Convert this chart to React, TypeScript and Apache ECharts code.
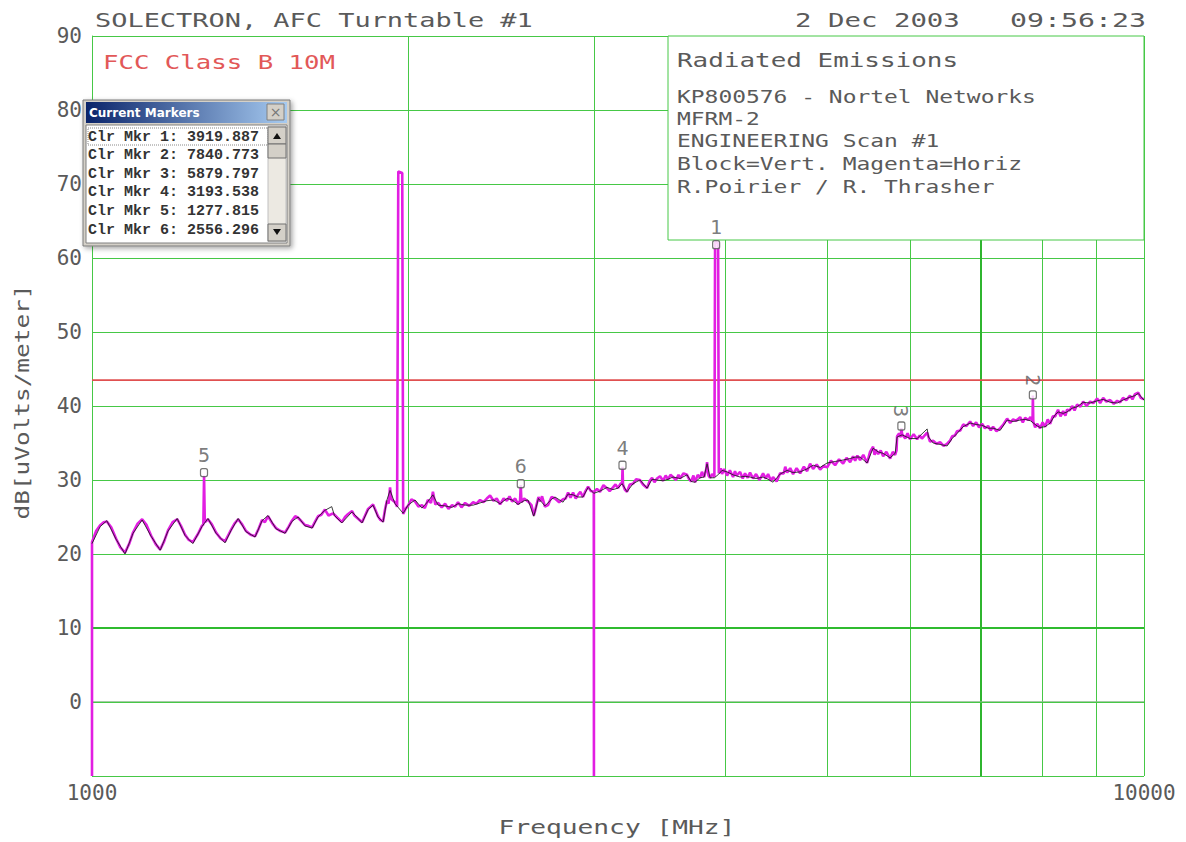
import React, { useEffect, useRef } from "react";
import * as echarts from "echarts";

const FONT = '"DejaVu Sans Mono", "Liberation Mono", monospace';
const INK = "#5a5a5a";
const GREEN = "#46c846";

// ---------- data ----------
// Magenta trace (horizontal polarisation): [frequency MHz, level dBuV/m]
const horizTrace: [number, number][] = [
  [1000, -10], [1000, 21.6], [1009, 23.1], [1018, 23.9], [1026, 24.3], [1033, 24.4], [1043, 23.6],
  [1054, 22.1], [1064, 20.9], [1075, 20.2], [1085, 21.4], [1094, 22.9], [1105, 24.1], [1116, 24.7],
  [1127, 23.9], [1138, 22.5], [1150, 21.3], [1161, 20.6], [1171, 21.7], [1181, 23.2], [1193, 24.3],
  [1205, 24.7], [1215, 23.8], [1226, 22.6], [1236, 21.9], [1247, 21.6], [1261, 22.7], [1272, 23.8],
  [1276, 24.0], [1278, 30.6], [1280, 24.3], [1289, 24.7], [1300, 24.0], [1312, 22.9], [1325, 22.1],
  [1338, 21.7], [1347, 22.5], [1356, 23.3], [1366, 24.1], [1377, 24.7], [1389, 24.0], [1401, 23.1],
  [1415, 22.6], [1429, 22.4], [1440, 23.4], [1451, 24.6], [1460, 24.3], [1470, 25.1], [1483, 24.2],
  [1496, 23.5], [1511, 23.1], [1526, 22.9], [1538, 23.7], [1549, 24.5], [1560, 25.1], [1570, 24.9],
  [1582, 24.4], [1594, 23.9], [1606, 23.8], [1619, 23.6], [1630, 24.4], [1640, 25.1], [1652, 25.3],
  [1665, 26.0], [1678, 25.2], [1695, 25.5], [1711, 24.9], [1728, 24.3], [1740, 25.0], [1748, 25.3],
  [1767, 25.8], [1776, 25.2], [1786, 24.9], [1796, 24.6], [1806, 24.3], [1818, 25.2], [1830, 26.1],
  [1840, 26.4], [1850, 26.7], [1860, 25.9], [1870, 25.1], [1880, 24.6], [1891, 24.4], [1899, 26.0],
  [1907, 27.2], [1914, 26.8], [1920, 29.0], [1926, 27.4], [1941, 27.0], [1950, 26.4], [1955, 71.7],
  [1972, 71.5], [1976, 25.4], [1986, 26.1], [1997, 26.5], [2012, 27.4], [2028, 27.1], [2043, 26.4],
  [2059, 26.6], [2072, 26.2], [2086, 27.3], [2100, 26.9], [2109, 28.4], [2120, 26.7], [2133, 26.9],
  [2150, 26.3], [2166, 26.8], [2182, 26.1], [2199, 26.6], [2214, 26.4], [2228, 27.0], [2245, 26.3],
  [2263, 26.9], [2283, 26.5], [2303, 27.0], [2320, 26.8], [2338, 27.3], [2356, 27.0], [2373, 27.5],
  [2390, 27.9], [2408, 27.2], [2425, 27.5], [2443, 26.7], [2462, 27.5], [2480, 27.2], [2494, 27.8],
  [2508, 27.1], [2525, 27.5], [2541, 26.7], [2552, 27.2], [2556, 29.3], [2560, 27.0], [2575, 27.5],
  [2597, 27.1], [2617, 26.6], [2630, 25.2], [2637, 25.8], [2657, 27.7], [2668, 27.1], [2678, 27.8],
  [2695, 26.4], [2713, 26.6], [2734, 27.7], [2755, 27.5], [2780, 27.0], [2804, 27.4], [2820, 27.5],
  [2835, 28.3], [2850, 27.6], [2866, 28.3], [2883, 27.5], [2897, 28.0], [2912, 28.4], [2929, 27.7],
  [2945, 28.5], [2962, 29.1], [2980, 28.5], [2999, 28.4], [3000, -10], [3000, 28.4], [3020, 28.8],
  [3040, 28.4], [3063, 29.3], [3087, 28.9], [3105, 28.5], [3128, 29.0], [3145, 29.4], [3162, 28.9],
  [3180, 29.5], [3191, 29.6], [3194, 31.8], [3197, 29.4], [3210, 28.7], [3225, 28.4], [3245, 29.4],
  [3268, 29.5], [3290, 30.1], [3318, 30.0], [3340, 29.4], [3370, 28.9], [3390, 29.9], [3407, 30.3],
  [3425, 29.7], [3444, 30.2], [3467, 30.5], [3490, 29.9], [3510, 30.6], [3528, 30.1], [3547, 30.7],
  [3567, 30.4], [3590, 30.0], [3610, 30.7], [3622, 30.2], [3650, 30.9], [3678, 30.7], [3695, 30.1],
  [3711, 29.8], [3730, 30.6], [3743, 29.7], [3765, 30.7], [3784, 30.3], [3800, 31.1], [3818, 30.4],
  [3835, 31.4], [3843, 32.4], [3855, 30.6], [3868, 30.3], [3885, 30.8], [3905, 30.4], [3911, 62.2],
  [3937, 62.0], [3943, 30.9], [3960, 31.6], [3971, 30.8], [3990, 31.5], [4015, 30.6], [4040, 31.3],
  [4068, 30.4], [4085, 31.2], [4100, 30.6], [4131, 31.1], [4155, 30.2], [4176, 30.9], [4200, 30.3],
  [4222, 31.0], [4250, 30.2], [4278, 30.8], [4310, 30.0], [4344, 30.9], [4370, 30.2], [4392, 30.8],
  [4420, 29.9], [4440, 30.4], [4475, 29.8], [4509, 30.9], [4545, 30.9], [4560, 31.8], [4579, 31.0],
  [4610, 31.6], [4639, 30.8], [4675, 31.6], [4711, 30.9], [4750, 31.8], [4784, 31.2], [4815, 32.2],
  [4847, 31.5], [4885, 32.1], [4922, 31.4], [4960, 31.9], [4998, 31.7], [5040, 32.6], [5086, 32.0],
  [5130, 32.8], [5176, 32.2], [5215, 33.0], [5256, 32.4], [5290, 33.2], [5314, 32.6], [5340, 33.3],
  [5372, 32.7], [5410, 33.4], [5455, 32.3], [5490, 33.8], [5527, 34.5], [5545, 33.4], [5560, 34.1],
  [5588, 33.5], [5620, 34.0], [5650, 33.2], [5690, 33.8], [5737, 32.9], [5770, 33.8], [5800, 33.4],
  [5818, 34.0], [5825, 35.9], [5850, 36.3], [5872, 35.8], [5880, 37.0], [5889, 36.2], [5930, 35.6],
  [5960, 36.3], [5993, 35.5], [6040, 36.2], [6086, 35.5], [6120, 36.0], [6150, 35.6], [6221, 36.4],
  [6260, 35.2], [6303, 35.3], [6350, 34.9], [6400, 35.1], [6450, 34.6], [6499, 34.9], [6540, 35.3],
  [6571, 35.9], [6610, 36.0], [6643, 36.6], [6690, 36.7], [6731, 37.5], [6780, 37.3], [6835, 37.9],
  [6880, 37.3], [6925, 37.8], [6970, 37.1], [7016, 37.6], [7060, 37.0], [7109, 37.3], [7150, 36.7],
  [7187, 37.2], [7240, 36.6], [7299, 37.0], [7350, 37.5], [7411, 38.3], [7460, 37.7], [7509, 38.2],
  [7560, 38.0], [7625, 38.5], [7670, 37.8], [7709, 38.4], [7760, 38.1], [7800, 38.5], [7835, 37.9],
  [7841, 41.4], [7848, 37.9], [7880, 37.1], [7914, 37.6], [7966, 37.0], [8010, 37.8], [8054, 37.2],
  [8100, 38.2], [8143, 37.6], [8190, 38.6], [8232, 38.6], [8285, 39.5], [8330, 38.6], [8378, 39.3],
  [8420, 38.7], [8451, 39.5], [8500, 39.4], [8544, 40.0], [8590, 39.4], [8638, 40.2], [8700, 39.9],
  [8753, 40.6], [8820, 40.0], [8888, 40.6], [8950, 40.4], [9025, 41.0], [9085, 40.4], [9145, 41.1],
  [9210, 40.6], [9286, 40.8], [9360, 40.3], [9430, 40.7], [9490, 40.5], [9551, 41.1], [9620, 40.8],
  [9698, 41.4], [9750, 40.9], [9805, 41.6], [9874, 41.8], [9930, 41.1], [10000, 40.9],
];

// Black trace (vertical polarisation): [frequency MHz, level dBuV/m]
const vertTrace: [number, number][] = [
  [1000, 21.4], [1018, 23.7], [1033, 24.5], [1054, 22.0], [1075, 20.0], [1094, 22.8], [1116, 24.6],
  [1138, 22.4], [1161, 20.5], [1181, 23.1], [1205, 24.8], [1226, 22.5], [1247, 21.4], [1272, 23.7],
  [1289, 24.8], [1312, 22.8], [1338, 21.5], [1356, 23.2], [1377, 24.8], [1401, 23.0], [1429, 22.3],
  [1451, 24.5], [1470, 25.2], [1496, 23.4], [1526, 22.8], [1549, 24.4], [1570, 25.0], [1594, 23.8],
  [1619, 23.5], [1640, 25.0], [1665, 25.9], [1690, 26.4], [1700, 25.2], [1728, 24.2], [1767, 25.7],
  [1806, 24.2], [1830, 26.0], [1850, 26.6], [1870, 25.0], [1891, 24.3], [1907, 27.3], [1920, 28.6],
  [1941, 26.8], [1976, 25.5], [1997, 26.6], [2028, 27.3], [2059, 26.2], [2086, 27.1], [2109, 28.0],
  [2133, 26.6], [2166, 26.5], [2199, 26.3], [2228, 26.8], [2263, 26.6], [2303, 26.6], [2338, 26.9],
  [2373, 27.2], [2408, 27.3], [2443, 26.8], [2480, 27.5], [2508, 27.3], [2541, 26.7], [2575, 27.2],
  [2597, 27.3], [2630, 25.1], [2657, 27.5], [2695, 26.5], [2734, 27.4], [2755, 27.7], [2804, 27.0],
  [2835, 28.1], [2866, 28.0], [2897, 27.7], [2929, 27.7], [2962, 29.0], [2999, 28.2], [3040, 28.5],
  [3087, 29.0], [3128, 28.7], [3162, 28.9], [3191, 29.5], [3225, 28.4], [3268, 29.5], [3318, 30.0],
  [3370, 28.9], [3407, 30.1], [3444, 30.0], [3490, 29.9], [3528, 30.1], [3567, 30.4], [3622, 30.2],
  [3678, 30.7], [3711, 29.8], [3743, 29.7], [3784, 30.3], [3818, 30.4], [3843, 32.2], [3868, 30.3],
  [3905, 30.3], [3943, 30.8], [3971, 31.3], [4015, 31.1], [4068, 30.7], [4131, 30.4], [4176, 30.5],
  [4222, 30.4], [4278, 30.2], [4344, 30.4], [4392, 30.1], [4440, 29.7], [4509, 30.8], [4579, 31.3],
  [4639, 31.0], [4711, 31.1], [4784, 31.5], [4847, 32.0], [4922, 31.7], [4998, 32.3], [5086, 32.5],
  [5176, 32.7], [5256, 32.9], [5314, 33.1], [5372, 33.1], [5455, 32.3], [5527, 34.3], [5588, 33.8],
  [5650, 33.6], [5737, 33.0], [5800, 33.6], [5825, 35.8], [5889, 36.1], [5993, 35.6], [6086, 35.6],
  [6221, 36.9], [6240, 35.8], [6303, 35.0], [6400, 34.8], [6499, 34.6], [6571, 35.6], [6643, 36.3],
  [6731, 37.2], [6835, 37.7], [6925, 37.5], [7016, 37.4], [7109, 37.0], [7187, 37.0], [7299, 36.7],
  [7411, 38.1], [7509, 37.9], [7625, 38.1], [7709, 38.2], [7800, 38.0], [7914, 37.3], [7966, 37.1],
  [8054, 37.2], [8143, 37.7], [8232, 38.8], [8285, 39.2], [8378, 39.0], [8451, 39.2], [8544, 39.7],
  [8638, 39.9], [8753, 40.5], [8888, 40.4], [9025, 40.7], [9145, 40.9], [9286, 40.5], [9430, 40.4],
  [9551, 40.8], [9698, 41.2], [9805, 41.4], [9874, 41.7], [10000, 40.8],
];

const markerNames = ["1", "2", "3", "4", "5", "6"];
const markerFreqs = [3919.887, 7840.773, 5879.797, 3193.538, 1277.815, 2556.296];
const markerLevels = [61.8, 41.5, 37.3, 32.0, 31.0, 29.5];
const rotatedMarkers = ["2", "3"];

const limitFreqs = [1000, 10000];
const limitLevel = 43.5;
const minorGridFreqs = [2000, 3000, 4000, 5000, 6000, 7000, 8000, 9000];

const yMin = -10;
const yMax = 90;
const yStep = 10;
const xMin = 1000;
const xMax = 10000;

const titleLeft = "SOLECTRON, AFC Turntable #1";
const titleDate = "2 Dec 2003";
const titleTime = "09:56:23";
const limitName = "FCC Class B 10M";
const infoHeading = "Radiated Emissions";
const infoLines = [
  "KP800576 - Nortel Networks",
  "MFRM-2",
  "ENGINEERING Scan #1",
  "Block=Vert. Magenta=Horiz",
  "R.Poirier / R. Thrasher",
];
const xAxisName = "Frequency [MHz]";
const yAxisName = "dB[uVolts/meter]";
const windowTitle = "Current Markers";
const windowRows = markerNames.map(
  (n, i) => `Clr Mkr ${n}: ${markerFreqs[i].toFixed(3)}`
);

// ---------- helpers ----------
function fitText(
  text: string,
  x: number,
  y: number,
  width: number,
  size: number,
  fill: string,
  align: string = "left",
  extra: any = {}
) {
  const natural = text.length * 0.602 * size;
  return {
    type: "text",
    x,
    y,
    scaleX: width / natural,
    z: 20,
    silent: true,
    ...extra,
    style: {
      text,
      fill,
      fontSize: size,
      fontFamily: FONT,
      align,
      verticalAlign: "middle",
    },
  };
}

function buildMarkerWindow() {
  const x0 = 83;
  const y0 = 100;
  const w = 207;
  const h = 146;
  const z = 40;
  const children: any[] = [
    {
      type: "rect",
      z,
      shape: { x: x0, y: y0, width: w, height: h },
      style: {
        fill: "#d4d0c8",
        stroke: "#7a7a7a",
        lineWidth: 1,
        shadowBlur: 5,
        shadowColor: "rgba(0,0,0,0.35)",
        shadowOffsetX: 2,
        shadowOffsetY: 2,
      },
    },
    {
      type: "rect",
      z,
      shape: { x: x0 + 3, y: y0 + 2, width: w - 6, height: 21 },
      style: {
        fill: new echarts.graphic.LinearGradient(0, 0, 1, 0, [
          { offset: 0, color: "#0a246a" },
          { offset: 1, color: "#a6caf0" },
        ]),
      },
    },
    {
      type: "text",
      z,
      x: x0 + 6,
      y: y0 + 13,
      style: {
        text: windowTitle,
        fill: "#ffffff",
        fontSize: 12,
        fontWeight: "bold",
        fontFamily: '"DejaVu Sans", "Liberation Sans", sans-serif',
        align: "left",
        verticalAlign: "middle",
      },
    },
    {
      type: "rect",
      z,
      shape: { x: x0 + w - 23, y: y0 + 4, width: 17, height: 16 },
      style: { fill: "#d4d0c8", stroke: "#808080", lineWidth: 1 },
    },
    {
      type: "text",
      z,
      x: x0 + w - 14.5,
      y: y0 + 12,
      style: {
        text: "×",
        fill: "#777",
        fontSize: 14,
        fontFamily: '"DejaVu Sans", sans-serif',
        align: "center",
        verticalAlign: "middle",
      },
    },
    {
      type: "rect",
      z,
      shape: { x: x0 + 3, y: y0 + 25, width: w - 6, height: h - 28 },
      style: { fill: "#ffffff", stroke: "#808080", lineWidth: 1 },
    },
    {
      type: "rect",
      z,
      shape: { x: x0 + 5, y: y0 + 28, width: 180, height: 17 },
      style: { fill: "none", stroke: "#888", lineWidth: 1, lineDash: [1, 1] },
    },
  ];
  windowRows.forEach((row, i) => {
    children.push({
      type: "text",
      z,
      x: x0 + 5,
      y: y0 + 37 + i * 18.6,
      style: {
        text: row,
        fill: "#333",
        fontSize: 15,
        fontWeight: "bold",
        fontFamily: '"Liberation Mono", "DejaVu Sans Mono", monospace',
        align: "left",
        verticalAlign: "middle",
      },
    });
  });
  const sx = x0 + w - 22;
  children.push(
    {
      type: "rect",
      z: z + 1,
      shape: { x: sx, y: y0 + 26, width: 18, height: h - 30 },
      style: { fill: "#ece9e2", stroke: "#c0c0c0", lineWidth: 1 },
    },
    {
      type: "rect",
      z: z + 1,
      shape: { x: sx, y: y0 + 27, width: 18, height: 17 },
      style: { fill: "#d4d0c8", stroke: "#707070", lineWidth: 1 },
    },
    {
      type: "polygon",
      z: z + 2,
      shape: { points: [[sx + 5, y0 + 39], [sx + 13, y0 + 39], [sx + 9, y0 + 33]] },
      style: { fill: "#111" },
    },
    {
      type: "rect",
      z: z + 1,
      shape: { x: sx, y: y0 + 44, width: 18, height: 14 },
      style: { fill: "#d4d0c8", stroke: "#707070", lineWidth: 1 },
    },
    {
      type: "rect",
      z: z + 1,
      shape: { x: sx, y: y0 + h - 22, width: 18, height: 17 },
      style: { fill: "#d4d0c8", stroke: "#707070", lineWidth: 1 },
    },
    {
      type: "polygon",
      z: z + 2,
      shape: {
        points: [[sx + 5, y0 + h - 17], [sx + 13, y0 + h - 17], [sx + 9, y0 + h - 11]],
      },
      style: { fill: "#111" },
    }
  );
  return { type: "group", silent: true, children };
}

// ---------- component ----------
export default function App() {
  const ref = useRef<HTMLDivElement>(null);

  useEffect(() => {
    if (!ref.current) return;
    const chart = echarts.init(ref.current, null, { renderer: "svg" });

    const gridMarkData: any[] = minorGridFreqs.map((f) =>
      f === 7000
        ? { xAxis: f, lineStyle: { color: "#2fb52f", width: 2 } }
        : { xAxis: f }
    );
    gridMarkData.push({ yAxis: 10, lineStyle: { color: "#2fbb2f", width: 2.2 } });
    gridMarkData.push({ yAxis: 0, lineStyle: { color: "#8ab88a", width: 1.6 } });

    const option: any = {
      animation: false,
      backgroundColor: "#ffffff",
      textStyle: { fontFamily: FONT },
      grid: {
        left: 92,
        right: 42,
        top: 36,
        bottom: 66,
        containLabel: false,
        outerBoundsMode: "none",
      },
      xAxis: {
        type: "log",
        logBase: 10,
        min: xMin,
        max: xMax,
        axisLine: { show: true, lineStyle: { color: GREEN, width: 1 } },
        axisTick: { show: false },
        axisLabel: {
          show: true,
          fontFamily: FONT,
          fontSize: 21,
          color: INK,
          margin: 6,
          formatter: (v: number) => String(Math.round(v)),
        },
        splitLine: { show: true, lineStyle: { color: GREEN, width: 1 } },
        minorTick: { show: false },
        minorSplitLine: { show: false },
      },
      yAxis: {
        type: "value",
        min: yMin,
        max: yMax,
        interval: yStep,
        axisLine: { show: true, lineStyle: { color: GREEN, width: 1 } },
        axisTick: { show: false },
        axisLabel: {
          fontFamily: FONT,
          fontSize: 21,
          color: INK,
          margin: 10,
          formatter: (v: number) => (v === yMin ? "" : String(v)),
        },
        splitLine: { show: true, lineStyle: { color: GREEN, width: 1 } },
      },
      graphic: [
        {
          type: "rect",
          z: 1,
          silent: true,
          shape: { x: 668, y: 36, width: 476, height: 204 },
          style: { fill: "#ffffff", stroke: GREEN, lineWidth: 1 },
        },
        fitText(titleLeft, 95, 20, 438, 20, INK),
        fitText(titleDate, 795, 20, 165, 20, INK),
        fitText(titleTime, 1146, 20, 136, 20, INK, "right"),
        fitText(limitName, 103, 62, 232, 20, "#e25858"),
        fitText(infoHeading, 677, 60, 281, 20, INK),
        ...infoLines.map((t, i) =>
          fitText(t, 677, [97, 119, 141, 164, 187][i], t.length * 13.8, 18, INK)
        ),
        fitText(xAxisName, 617, 827, 237, 19, INK, "center"),
        fitText(yAxisName, 22, 402, 235, 19, INK, "center", { rotation: Math.PI / 2 }),
        buildMarkerWindow(),
      ],
      series: [
        {
          name: "grid",
          type: "line",
          z: 0,
          silent: true,
          showSymbol: false,
          data: [],
          markLine: {
            z: 0,
            silent: true,
            symbol: "none",
            animation: false,
            label: { show: false },
            lineStyle: { color: GREEN, width: 1, type: "solid" },
            data: gridMarkData,
          },
        },
        {
          name: limitName,
          type: "line",
          z: 2,
          silent: true,
          showSymbol: false,
          data: limitFreqs.map((f) => [f, limitLevel]),
          lineStyle: { color: "#e05050", width: 1.6 },
        },
        {
          name: "Horiz",
          type: "line",
          z: 3,
          silent: true,
          showSymbol: false,
          data: horizTrace,
          lineStyle: { color: "#e21ee2", width: 2.6 },
        },
        {
          name: "Vert",
          type: "line",
          z: 4,
          silent: true,
          showSymbol: false,
          data: vertTrace,
          lineStyle: { color: "#1c1c1c", width: 1, opacity: 0.85 },
        },
        {
          name: "Markers",
          type: "scatter",
          z: 5,
          silent: true,
          symbol: "roundRect",
          symbolSize: [7, 8],
          itemStyle: { color: "#ffffff", borderColor: "#555", borderWidth: 1.3 },
          label: {
            show: true,
            position: "top",
            distance: 3,
            formatter: "{b}",
            fontFamily: FONT,
            fontSize: 20,
            color: INK,
          },
          data: markerFreqs.map((f, i) => ({
            name: markerNames[i],
            value: [f, markerLevels[i]],
            label: rotatedMarkers.includes(markerNames[i])
              ? { rotate: -90, align: "right", verticalAlign: "middle", distance: 4 }
              : undefined,
          })),
        },
      ],
    };

    chart.setOption(option);
    return () => chart.dispose();
  }, []);

  return (
    <div
      ref={ref}
      style={{
        position: "fixed",
        left: 0,
        top: 0,
        width: 1186,
        height: 842,
        background: "#fff",
      }}
    />
  );
}
